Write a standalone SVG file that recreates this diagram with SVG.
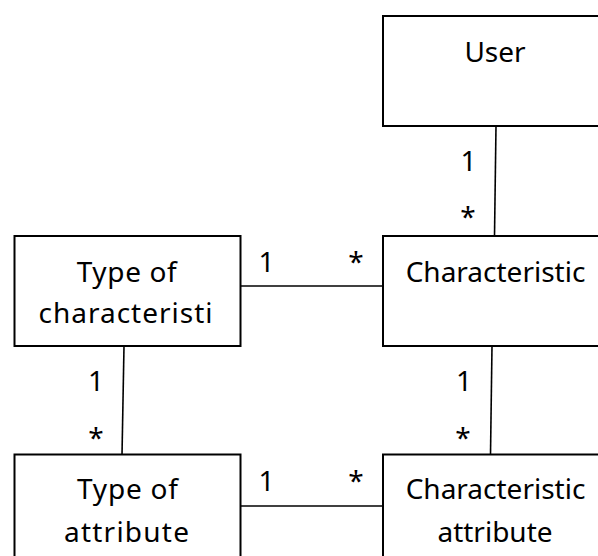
<svg xmlns="http://www.w3.org/2000/svg" width="598" height="556" viewBox="0 0 598 556">
<style>
.box{fill:#fff;stroke:#000;stroke-width:2}
.t{font-family:"Noto Sans","Open Sans",sans-serif;font-size:28px;fill:#000;text-anchor:middle}
.c line{stroke:#000;stroke-width:1.6}
</style>
<rect width="598" height="556" fill="#fff"/>
<g class="c" id="connectors">
<line x1="496" y1="126" x2="494.5" y2="236"/>
<line x1="241" y1="286" x2="383" y2="286"/>
<line x1="124" y1="346" x2="122" y2="455"/>
<line x1="492" y1="346" x2="490.5" y2="454.5"/>
<line x1="241" y1="506" x2="383" y2="506"/>
</g>
<g id="labels">
<text class="t" x="468.5" y="171">1</text>
<text class="t" x="468" y="227">*</text>
<text class="t" x="266.5" y="272">1</text>
<text class="t" x="356" y="272">*</text>
<text class="t" x="96" y="391">1</text>
<text class="t" x="96" y="448">*</text>
<text class="t" x="464" y="391">1</text>
<text class="t" x="463" y="448">*</text>
<text class="t" x="266.5" y="491">1</text>
<text class="t" x="356" y="491">*</text>
</g>
<g id="user">
<rect class="box" x="383" y="16" width="230" height="110"/>
<text class="t" x="495" y="62">User</text>
</g>
<g id="characteristic">
<rect class="box" x="383" y="236" width="230" height="110"/>
<text class="t" x="495.5" y="282">Characteristic</text>
</g>
<g id="type-of-characteristic">
<rect class="box" x="14.5" y="236" width="226" height="110"/>
<text class="t" x="126.7" y="281.5" textLength="100" lengthAdjust="spacing">Type of</text>
<text class="t" x="125.5" y="323" textLength="174" lengthAdjust="spacing">characteristi</text>
</g>
<g id="type-of-attribute">
<rect class="box" x="14.5" y="454.5" width="226" height="130"/>
<text class="t" x="127.5" y="498.5" textLength="101" lengthAdjust="spacing">Type of</text>
<text class="t" x="126.5" y="542" textLength="125" lengthAdjust="spacing">attribute</text>
</g>
<g id="characteristic-attribute">
<rect class="box" x="383" y="454.5" width="230" height="130"/>
<text class="t" x="495.5" y="498.5">Characteristic</text>
<text class="t" x="495" y="542">attribute</text>
</g>
</svg>
